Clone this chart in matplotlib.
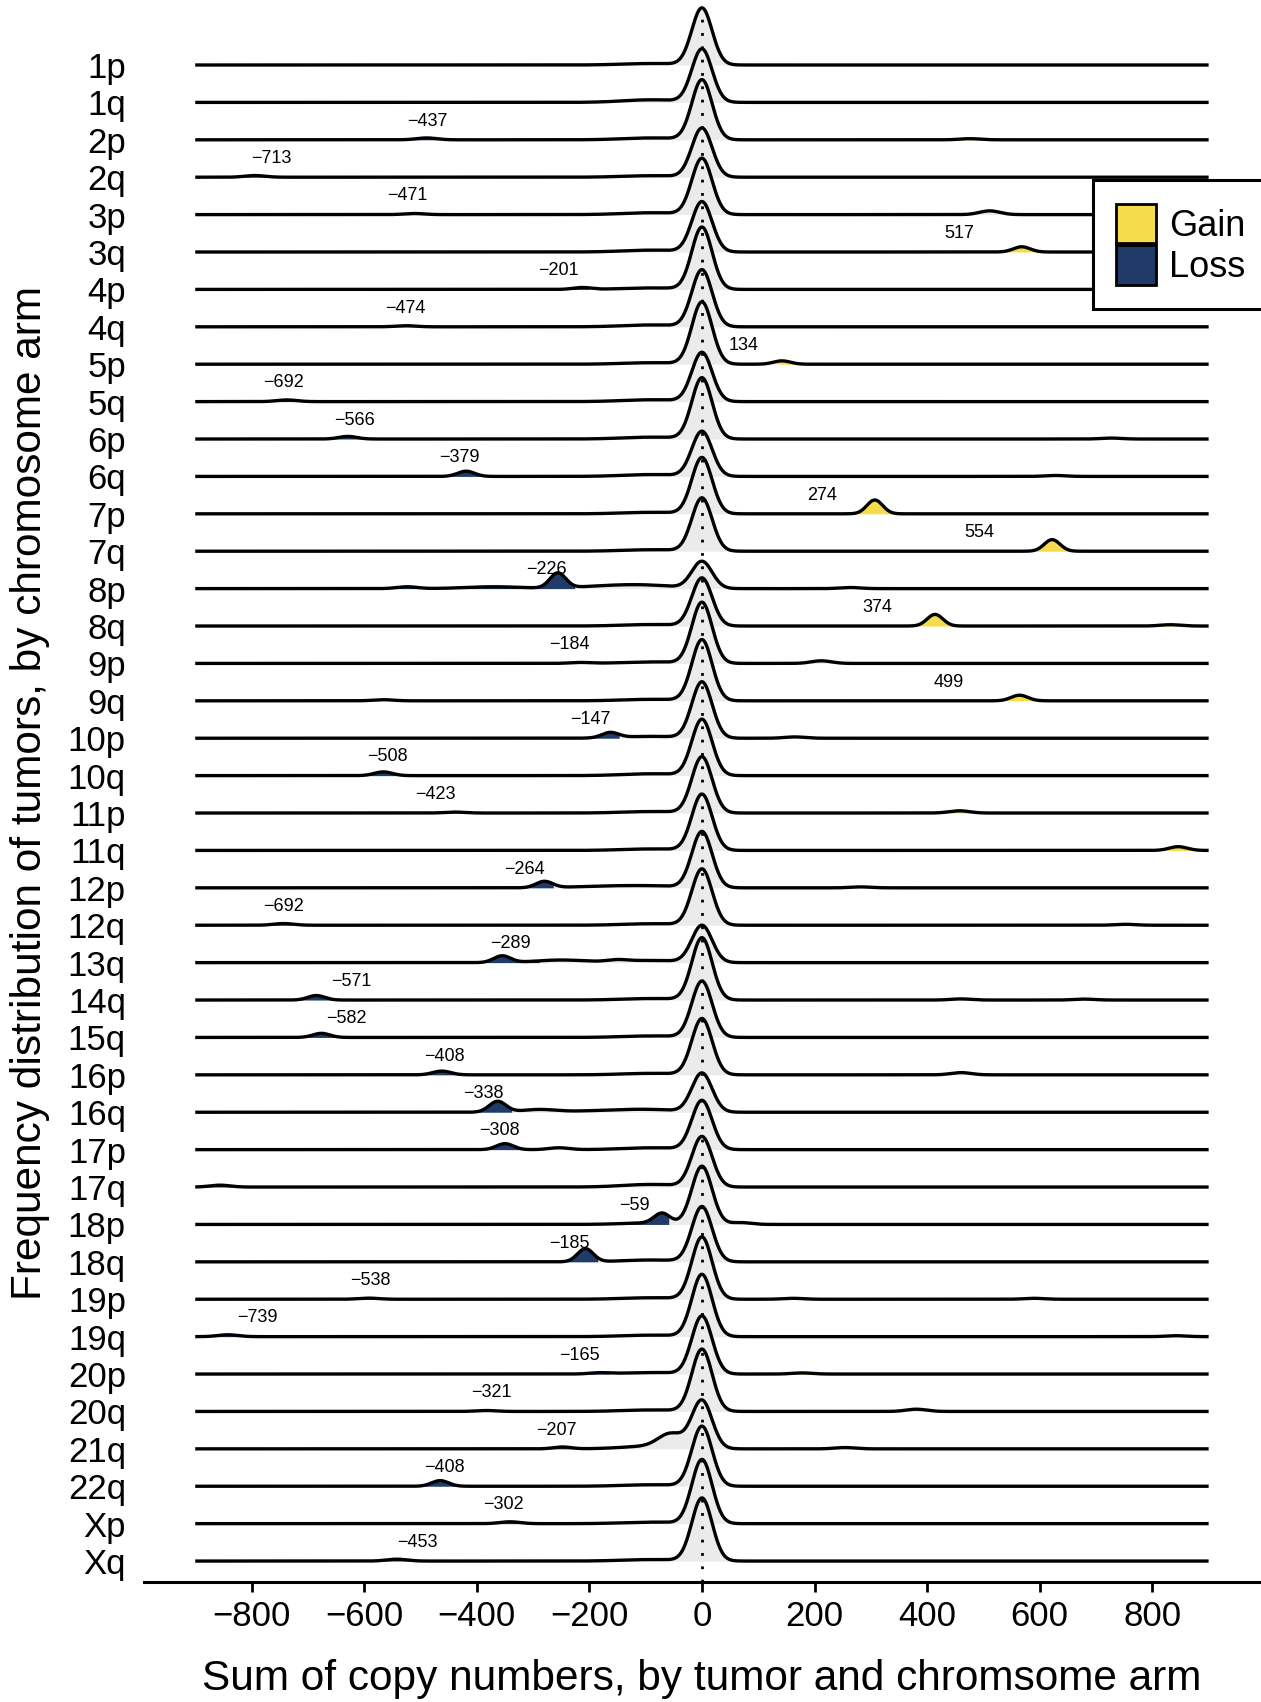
import numpy as np
import matplotlib.pyplot as plt
from matplotlib.patches import Patch

plt.rcParams['font.family'] = ['Liberation Sans', 'DejaVu Sans']

arms = ['1p', '1q', '2p', '2q', '3p', '3q', '4p', '4q', '5p', '5q', '6p', '6q',
        '7p', '7q', '8p', '8q', '9p', '9q', '10p', '10q', '11p', '11q', '12p', '12q',
        '13q', '14q', '15q', '16p', '16q', '17p', '17q', '18p', '18q', '19p', '19q',
        '20p', '20q', '21q', '22q', 'Xp', 'Xq']

# threshold shown as label (sign tells loss / gain), None = unlabeled
cut = [None, None, -437, -713, -471, 517, -201, -474, 134, -692, -566, -379,
       274, 554, -226, 374, -184, 499, -147, -508, -423, None, -264, -692,
       -289, -571, -582, -408, -338, -308, None, -59, -185, -538, -739,
       -165, -321, -207, -408, -302, -453]
label_x = [None, None, -488, -764, -524, 457, -255, -526, 74, -744, -617, -430,
           213, 493, -277, 312, -235, 438, -198, -559, -473, None, -315, -743,
           -340, -623, -632, -458, -389, -359, None, -120, -236, -589, -789,
           -217, -374, -259, -458, -352, -505]
# second cut on the other side (only where fill shows)
other_cut = {'2p': 440, '11p': 420, '11q': 800, '17q': -820, '20p': 160, '21q': 230}

# density of the main mode at 0 (in ridge-row units)
peak_h = [1.52, 1.42, 1.60, 1.31, 1.50, 1.34, 1.66, 1.52, 1.66, 1.31, 1.63, 1.20,
          1.50, 1.42, 0.72, 1.28, 1.63, 1.63, 1.50, 1.50, 1.50, 1.50, 1.50, 1.50,
          0.99, 1.66, 1.50, 1.50, 1.04, 1.31, 1.34, 1.55, 1.47, 1.66, 1.66,
          1.55, 1.66, 1.28, 1.60, 1.71, 1.68]
shoulder = [0.04, 0.07, 0.05, 0.04, 0.05, 0.05, 0.04, 0.05, 0.04, 0.05, 0.05, 0.05,
            0.04, 0.04, 0.06, 0.04, 0.04, 0.04, 0.05, 0.05, 0.04, 0.04, 0.05, 0.04,
            0.06, 0.04, 0.04, 0.04, 0.06, 0.05, 0.07, 0.04, 0.05, 0.04, 0.04,
            0.04, 0.04, 0.07, 0.04, 0.04, 0.04]
# secondary mode
bump_x = [0, 0, -489, -794, -511, 568, -213, -526, 142, -737, -629, -419,
          307, 622, -256, 414, -217, 564, -163, -566, -438, 846, -280, -743,
          -355, -685, -676, -462, -363, -350, -856, -71, -207, -592, -842,
          -181, -383, -248, -465, -341, -542]
bump_h = [0, 0, 0.05, 0.045, 0.03, 0.14, 0.05, 0.03, 0.09, 0.045, 0.07, 0.14,
          0.37, 0.31, 0.40, 0.31, 0.025, 0.15, 0.14, 0.10, 0.025, 0.10, 0.17, 0.045,
          0.18, 0.12, 0.11, 0.10, 0.29, 0.16, 0.05, 0.27, 0.35, 0.03, 0.05,
          0.03, 0.025, 0.05, 0.15, 0.05, 0.05]
bump_sd = [14, 14, 18, 18, 18, 15, 16, 18, 15, 18, 16, 15,
           14, 14, 14, 14, 18, 15, 15, 16, 18, 16, 15, 18,
           15, 15, 15, 16, 15, 15, 18, 14, 14, 18, 18,
           18, 18, 16, 15, 18, 18]
# small extra modes: (arm, x, height, sd)
minor = [('2p', 476, 0.03, 18), ('3p', 511, 0.10, 18), ('6p', 727, 0.025, 18),
         ('6q', 628, 0.025, 18), ('8p', -524, 0.05, 18), ('8p', 263, 0.03, 18),
         ('8p', -370, 0.05, 50), ('8p', -160, 0.07, 60), ('8q', 832, 0.035, 18),
         ('9p', 212, 0.07, 18), ('9q', -566, 0.03, 18), ('10p', 165, 0.035, 18),
         ('11p', 457, 0.06, 18), ('12p', 282, 0.025, 18), ('12p', -180, 0.04, 50),
         ('12q', 752, 0.025, 18), ('13q', -250, 0.07, 45), ('13q', -151, 0.05, 18),
         ('14q', 460, 0.03, 18), ('14q', 679, 0.025, 18), ('16p', 460, 0.06, 18),
         ('16q', -290, 0.07, 30), ('16q', -170, 0.04, 60), ('17p', -254, 0.05, 18),
         ('18p', 69, 0.05, 18), ('19p', 162, 0.025, 18), ('19p', 590, 0.025, 18),
         ('19q', 842, 0.025, 18), ('20p', 178, 0.03, 18), ('20q', 381, 0.06, 18),
         ('21q', -55, 0.36, 22), ('21q', 254, 0.035, 18)]

gain_col = '#F4DC4C'
loss_col = '#213B69'
grey_col = '#EBEBEB'

fig = plt.figure(figsize=(12.61, 17.02), dpi=100)
ax = fig.add_axes([144 / 1261, 1 - 1582 / 1702, 1 - 144 / 1261, 1582 / 1702])

n = len(arms)
x = np.linspace(-900, 900, 1801)
g = lambda m, s: np.exp(-(x - m) ** 2 / (2 * s ** 2))

for i, arm in enumerate(arms):
    base = n - 1 - i
    d = peak_h[i] * g(0, 18) + shoulder[i] * g(-90, 50)
    if bump_h[i] > 0:
        d = d + bump_h[i] * g(bump_x[i], bump_sd[i])
    for a, mx, mh, ms in minor:
        if a == arm:
            d = d + mh * g(mx, ms)
    y = base + d

    lo, hi = -np.inf, np.inf
    if cut[i] is not None:
        if cut[i] < 0:
            lo = cut[i]
        else:
            hi = cut[i]
    if arm in other_cut:
        oc = other_cut[arm]
        if oc < 0:
            lo = oc
        else:
            hi = oc

    ax.fill_between(x, base, y, where=(x >= lo) & (x <= hi), color=grey_col,
                    lw=0, zorder=1)
    ax.fill_between(x, base, y, where=x <= lo, color=loss_col, lw=0, zorder=1.5)
    ax.fill_between(x, base, y, where=x >= hi, color=gain_col, lw=0, zorder=1.5)
    ax.plot(x, y, color='black', lw=2.4, zorder=3, solid_capstyle='butt')

    if cut[i] is not None:
        ax.text(label_x[i], base + 0.5, str(cut[i]).replace('-', '\u2212'),
                fontsize=13, ha='center', va='center', zorder=4)

ax.plot([0, 0], [-0.56, n - 1 + 1.25], color='black', lw=2.0,
        linestyle=(0, (1, 3.8)), zorder=2.5)

ax.set_xlim(-991, 993)
ax.set_ylim(-0.56, n - 1 + 65 / 37.4)

ax.set_xticks(range(-800, 801, 200))
ax.set_yticks(range(n - 1, -1, -1))
ax.set_yticklabels(arms)
ax.tick_params(axis='x', labelsize=25, width=2, length=7, pad=6)
ax.tick_params(axis='y', labelsize=25, length=0, pad=13)
for s in ['left', 'top', 'right']:
    ax.spines[s].set_visible(False)
ax.spines['bottom'].set_linewidth(2.2)

ax.set_xlabel('Sum of copy numbers, by tumor and chromsome arm', fontsize=30.5)
ax.xaxis.set_label_coords(0.4995, -0.0485)
fig.text(30 / 1261, 0.534, 'Frequency distribution of tumors, by chromosome arm',
         rotation=90, ha='center', va='center', fontsize=30.5)

handles = [Patch(facecolor=gain_col, edgecolor='black', lw=2),
           Patch(facecolor=loss_col, edgecolor='black', lw=2)]
leg = fig.legend(handles, ['Gain', 'Loss'], loc='upper left',
                 bbox_to_anchor=(1092.5 / 1261, 1 - 180 / 1702), fontsize=26,
                 frameon=True, fancybox=False, edgecolor='black', framealpha=1,
                 handlelength=1.1, handleheight=1.3, labelspacing=0.05,
                 handletextpad=0.36, borderpad=0.66, borderaxespad=0)
leg.get_frame().set_linewidth(2.2)

fig.savefig('out.png', dpi=100)
